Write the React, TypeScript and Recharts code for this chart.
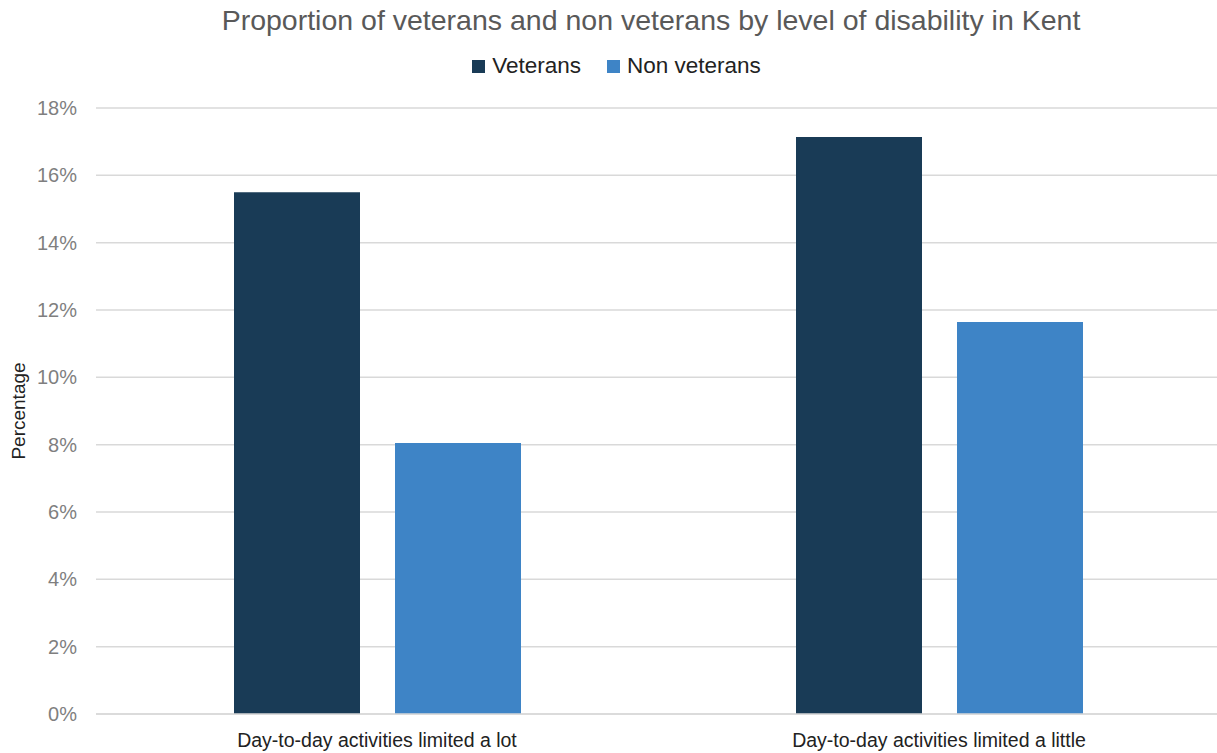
import { BarChart, Bar, XAxis, YAxis, CartesianGrid, Legend } from 'recharts';

const categories = ['Day-to-day activities limited a lot', 'Day-to-day activities limited a little'];
const veterans = [0.155, 0.1714];
const nonVeterans = [0.0805, 0.1164];
const yTicks = [0, 0.02, 0.04, 0.06, 0.08, 0.1, 0.12, 0.14, 0.16, 0.18];
const seriesNames = ['Veterans', 'Non veterans'];
const seriesColors = ['#193b56', '#3e84c6'];

const data = categories.map((name, i) => ({
  name,
  veterans: veterans[i],
  nonVeterans: nonVeterans[i],
}));

const FONT = '"Liberation Sans", Arial, sans-serif';

const LegendContent = () => (
  <div style={{ display: 'flex', justifyContent: 'center', gap: 26, fontSize: 22.5, color: '#222' }}>
    {seriesNames.map((n, i) => (
      <div key={n} style={{ display: 'flex', alignItems: 'center' }}>
        <span style={{ width: 13, height: 13, background: seriesColors[i], marginRight: 7, display: 'inline-block' }} />
        <span>{n}</span>
      </div>
    ))}
  </div>
);

export default function App() {
  return (
    <div
      style={{
        position: 'absolute',
        left: 0,
        top: 0,
        width: 1217,
        height: 753,
        overflow: 'hidden',
        background: '#fff',
        fontFamily: FONT,
      }}
    >
      <div
        style={{
          position: 'absolute',
          top: 4,
          left: 0,
          width: 1302,
          textAlign: 'center',
          fontSize: 28.5,
          color: '#595959',
        }}
      >
        Proportion of veterans and non veterans by level of disability in Kent
      </div>
      <BarChart
        width={1220}
        height={753}
        data={data}
        margin={{ top: 82, right: 0, bottom: 9, left: 0 }}
        barGap={35}
        barSize={126}
      >
        <CartesianGrid vertical={false} stroke="#d9d9d9" strokeWidth={1.5} />
        <XAxis
          dataKey="name"
          height={30}
          axisLine={{ stroke: '#d9d9d9', strokeWidth: 1.5 }}
          tickLine={false}
          tickSize={0}
          tickMargin={19}
          tick={{ fill: '#222', fontSize: 19.5, fontFamily: FONT }}
        />
        <YAxis
          width={96}
          domain={[0, 0.18]}
          ticks={yTicks}
          axisLine={false}
          tickLine={false}
          tickSize={0}
          tickMargin={19}
          tick={{ fill: '#7f7f7f', fontSize: 20, fontFamily: FONT }}
          tickFormatter={(v: number) => `${Math.round(v * 100)}%`}
          label={{
            value: 'Percentage',
            angle: -90,
            position: 'insideLeft',
            offset: 18,
            style: { fill: '#222', fontSize: 19, fontFamily: FONT, textAnchor: 'middle' },
          }}
        />
        <Legend
          verticalAlign="top"
          align="center"
          content={<LegendContent />}
          wrapperStyle={{ top: 53, left: 0, width: 1233, fontFamily: FONT }}
        />
        <Bar dataKey="veterans" name={seriesNames[0]} fill={seriesColors[0]} isAnimationActive={false} />
        <Bar dataKey="nonVeterans" name={seriesNames[1]} fill={seriesColors[1]} isAnimationActive={false} />
      </BarChart>
    </div>
  );
}
